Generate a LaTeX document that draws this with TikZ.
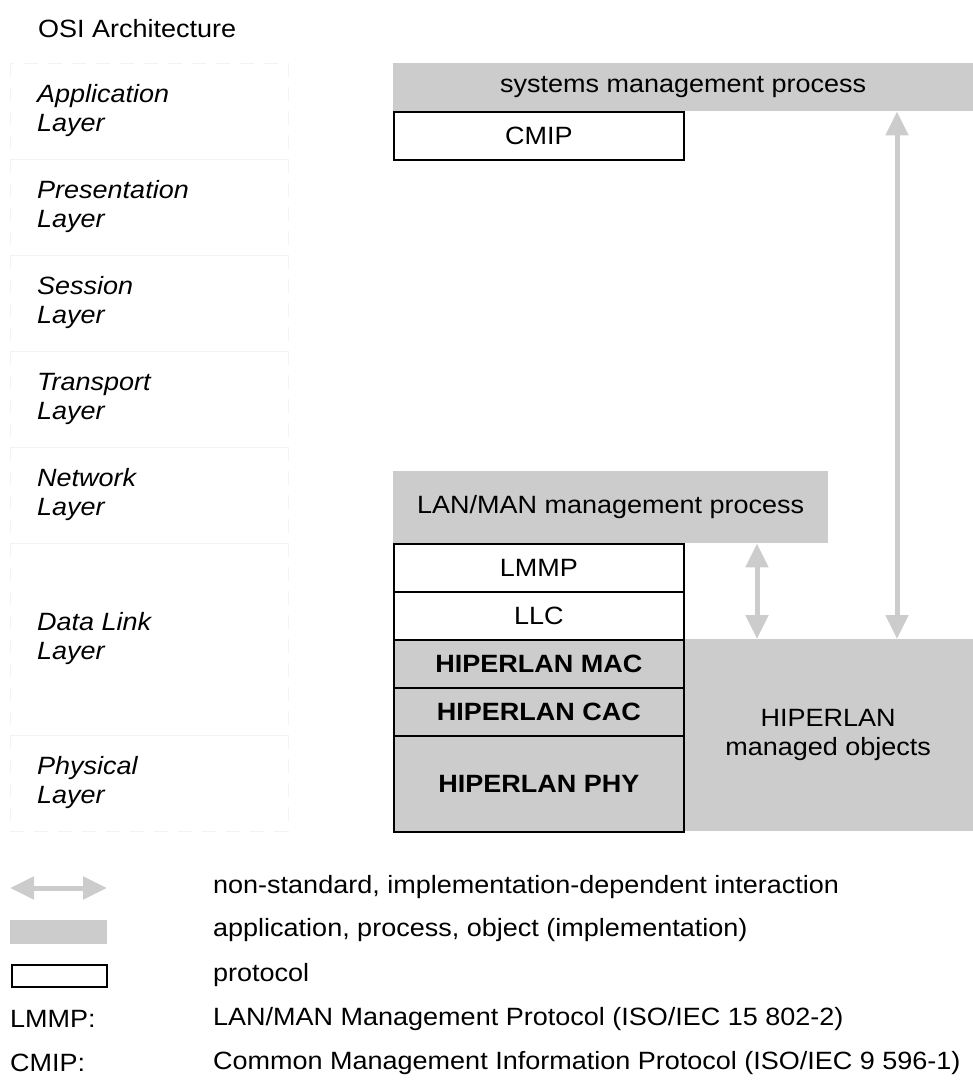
\documentclass[tikz,border=0pt]{standalone}
\usepackage{fontspec}
\setmainfont{Liberation Sans}[FakeStretch=1.08]
\usetikzlibrary{arrows.meta}
\definecolor{lgray}{HTML}{CCCCCC}
\definecolor{faint}{HTML}{F3F3F3}
\tikzset{
  txt/.style={font=\fontsize{25}{29}\selectfont, inner sep=0pt},
  layerbox/.style={draw=faint, dashed, dash pattern=on 14pt off 10pt, line width=0.8pt},
  layertxt/.style={txt, font=\fontsize{25}{29}\selectfont\itshape, align=left, anchor=west},
  gbox/.style={txt, fill=lgray, anchor=north west, align=center},
  pbox/.style={txt, draw=black, line width=1.6pt, fill=white, anchor=north west, align=center},
  hbox/.style={txt, draw=black, line width=1.6pt, fill=lgray, anchor=north west, align=center, font=\fontsize{25}{29}\selectfont\bfseries},
  garrow/.style={draw=lgray, line width=5pt, {Triangle[width=22pt,length=24pt]}-{Triangle[width=22pt,length=24pt]}, shorten <=0pt, shorten >=0pt},
  legtxt/.style={txt, anchor=west},
}
\begin{document}
\begin{tikzpicture}[x=1pt,y=-1pt]
\useasboundingbox (0,0) rectangle (973,1091);
% title
\node[txt, anchor=west] (title) at (38,29) {OSI Architecture};
% layer boxes
\draw[layerbox] (10,63) rectangle (288,159);
\draw[layerbox] (10,159) rectangle (288,255);
\draw[layerbox] (10,255) rectangle (288,351);
\draw[layerbox] (10,351) rectangle (288,447);
\draw[layerbox] (10,447) rectangle (288,543);
\draw[layerbox] (10,543) rectangle (288,735);
\draw[layerbox] (10,735) rectangle (288,831);
\node[layertxt] (app) at (37,111) {Application\\Layer};
\node[layertxt] (pres) at (37,207) {Presentation\\Layer};
\node[layertxt] (sess) at (37,303) {Session\\Layer};
\node[layertxt] (trans) at (37,399) {Transport\\Layer};
\node[layertxt] (net) at (37,495) {Network\\Layer};
\node[layertxt] (dl) at (37,639) {Data Link\\Layer};
\node[layertxt] (phys) at (37,783) {Physical\\Layer};
% right side
\node[gbox, minimum width=580pt, minimum height=48pt] (smp) at (393,63) {systems management process};
\node[pbox, minimum width=290pt, minimum height=48pt] (cmip) at (393,111) {CMIP};
\node[gbox, minimum width=435pt, minimum height=72pt] (lan) at (393,471) {LAN/MAN management process};
\node[gbox, minimum width=290pt, minimum height=192pt] (obj) at (683,639) {HIPERLAN\\managed objects};
\node[pbox, minimum width=290pt, minimum height=48pt] (lmmp) at (393,543) {LMMP};
\node[pbox, minimum width=290pt, minimum height=48pt] (llc) at (393,591) {LLC};
\node[hbox, minimum width=290pt, minimum height=48pt] (mac) at (393,639) {HIPERLAN MAC};
\node[hbox, minimum width=290pt, minimum height=48pt] (cac) at (393,687) {HIPERLAN CAC};
\node[hbox, minimum width=290pt, minimum height=96pt] (phy) at (393,735) {HIPERLAN PHY};
% arrows
\coordinate (ax1) at (757,0);
\coordinate (ax2) at (897,0);
\draw[garrow] (lan.south -| ax1) -- (obj.north -| ax1);
\draw[garrow] (smp.south -| ax2) -- (obj.north -| ax2);
% legend
\coordinate (la1) at (10,888);
\coordinate (la2) at (107,888);
\draw[garrow] (la1) -- (la2);
\node[legtxt] (l1) at (213,887) {non-standard, implementation-dependent interaction};
\node[fill=lgray, inner sep=0pt, minimum width=97pt, minimum height=24pt, anchor=north west] (lg) at (10,920) {};
\node[legtxt] (l2) at (213,930) {application, process, object (implementation)};
\node[draw=black, line width=1.6pt, inner sep=0pt, minimum width=95pt, minimum height=22pt, anchor=north west] (lp) at (11,964) {};
\node[legtxt] (l3) at (213,975) {protocol};
\node[legtxt] (k1) at (10,1019) {LMMP:};
\node[legtxt] (d1) at (213,1019) {LAN/MAN Management Protocol (ISO/IEC 15 802-2)};
\node[legtxt] (k2) at (10,1063) {CMIP:};
\node[legtxt] (d2) at (213,1063) {Common Management Information Protocol (ISO/IEC 9 596-1)};
\end{tikzpicture}
\end{document}
